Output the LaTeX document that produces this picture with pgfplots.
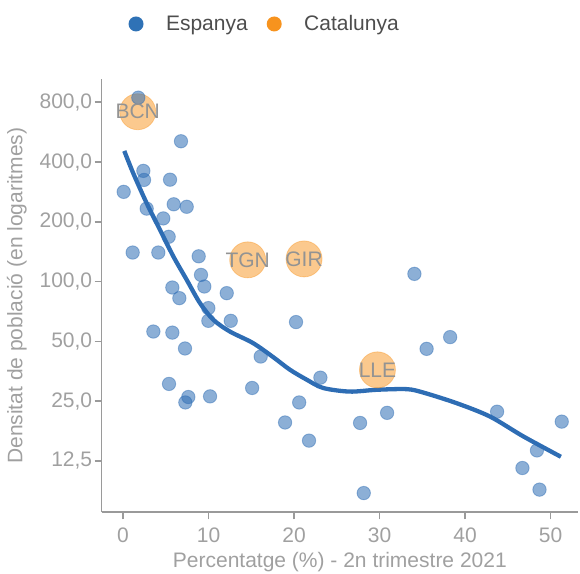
\documentclass[border=0pt]{standalone}
\usepackage{fontspec}
\setmainfont{Liberation Sans}
\usepackage{pgfplots}
\pgfplotsset{compat=1.18}
\definecolor{espblue}{HTML}{2E6DB4}
\definecolor{legblue}{HTML}{2F72B6}
\definecolor{catorange}{HTML}{F7931E}
\definecolor{axgray}{HTML}{9A9A9A}
\definecolor{labgray}{HTML}{A0A0A0}
\definecolor{leggray}{HTML}{4D4D4D}
\newcommand{\txtfont}{\fontsize{21bp}{25bp}\selectfont}
\begin{document}
\begin{tikzpicture}
\path[use as bounding box] (-101.7bp,-61.7bp) rectangle (478.3bp,512.3bp);
\begin{axis}[
  at={(0,0)}, anchor=south west,
  scale only axis, width=476.3bp, height=433.3bp,
  xmin=-2.49, xmax=53.2,
  ymode=log, log basis y=2, ymin=6.88, ymax=1048,
  axis lines=left,
  axis line style={-, axgray, line width=1.6bp},
  tick style={axgray, line width=1.6bp},
  major tick length=7bp, tick align=outside,
  minor tick num=0,
  xtick={0,10,20,30,40,50},
  xticklabels={0,10,20,30,40,50},
  ytick={12.5,25,50,100,200,400,800},
  yticklabels={{12,5},{25,0},{50,0},{100,0},{200,0},{400,0},{800,0}},
  ticklabel style={font=\txtfont, text=labgray},
  xticklabel style={yshift=-5bp},
  yticklabel style={xshift=1bp},
  xlabel={Percentatge (\%) - 2n trimestre 2021},
  ylabel={Densitat de població (en logaritmes)},
  xlabel style={at={(axis description cs:0.5,-0.114)}, anchor=center, font=\txtfont, text=labgray},
  ylabel style={at={(axis description cs:-0.178,0.5)}, anchor=center, font=\txtfont, text=labgray},
  legend columns=2,
  legend style={at={(axis description cs:0.0563,1.127)}, anchor=west, draw=none, fill=none,
    inner sep=0pt, outer sep=0pt, font=\txtfont, text=leggray,
    /tikz/every even column/.append style={column sep=17bp}},
  clip=false,
]
\addlegendimage{legend image code/.code={\fill[legblue, draw=none] (0bp,0bp) circle (7.5bp); \path[draw=none, fill=none] (-7.5bp,0bp) rectangle (28bp,0.1bp);}}
\addlegendentry{Espanya}
\addlegendimage{legend image code/.code={\fill[catorange, draw=none] (0bp,0bp) circle (7.5bp); \path[draw=none, fill=none] (-7.5bp,0bp) rectangle (28bp,0.1bp);}}
\addlegendentry{Catalunya}

% Catalunya circles
\addplot[only marks, mark=*, mark size=18bp,
  mark options={fill=catorange, fill opacity=0.5, draw=catorange, draw opacity=0.4, line width=0.8bp}, forget plot]
  coordinates {(1.72,717) (14.58,128.6) (21.17,130) (29.75,35.9)};

% Espanya points
\addplot[only marks, mark=*, mark size=6.7bp,
  mark options={fill=espblue, fill opacity=0.55, draw=espblue, draw opacity=0.45, line width=0.9bp}, forget plot]
  coordinates {
(1.79,844) (6.78,509) (2.38,361) (2.46,325) (0.08,283) (5.5,326) (2.77,233)
(5.93,245) (7.45,238) (4.71,208) (5.34,168) (1.13,140) (4.13,140) (8.85,134)
(9.12,108) (9.51,94.4) (5.77,93.3) (6.59,82.5) (12.13,87.4) (9.98,73.5)
(12.6,63.4) (9.98,63.4) (3.55,56.0) (5.77,55.3) (7.25,46.0) (16.1,41.9)
(5.38,30.5) (15.1,29.1) (7.64,26.2) (7.29,24.6) (10.18,26.4) (18.95,19.5)
(20.23,62.5) (38.25,52.5) (35.5,45.8) (23.08,32.8) (20.6,24.6) (30.88,21.8)
(27.72,19.4) (43.74,22.1) (51.3,19.7) (21.75,15.8) (48.4,14.1) (46.7,11.5)
(48.7,8.95) (28.15,8.6) (34.07,109.3)
  };

% smooth fit
\addplot[espblue, line width=4.3bp, smooth, tension=0.5, forget plot]
  coordinates {
(0.15,455) (1.2,351) (2.77,248) (4.33,182) (5.88,134) (7.45,102) (9.0,77.9)
(10.56,64.2) (12.5,56) (15.2,49.0) (17.6,41.5) (19.5,36.0) (21.5,32.0)
(23.4,29.1) (26.5,27.9) (29.7,28.5) (33.2,28.7) (35.1,27.6) (39.0,24.4)
(42.9,20.9) (46.8,16.6) (51.2,13.1)
  };

% labels
\addplot[draw=none, mark=none, forget plot,
  nodes near coords={\pgfplotspointmeta}, point meta=explicit symbolic,
  every node near coord/.style={anchor=center, font=\txtfont, text=gray!85}]
  table[meta=lab] {
x y lab
1.72 717 BCN
14.58 128.6 TGN
21.17 130 GIR
29.75 35.9 LLE
};
\end{axis}
\end{tikzpicture}
\end{document}
